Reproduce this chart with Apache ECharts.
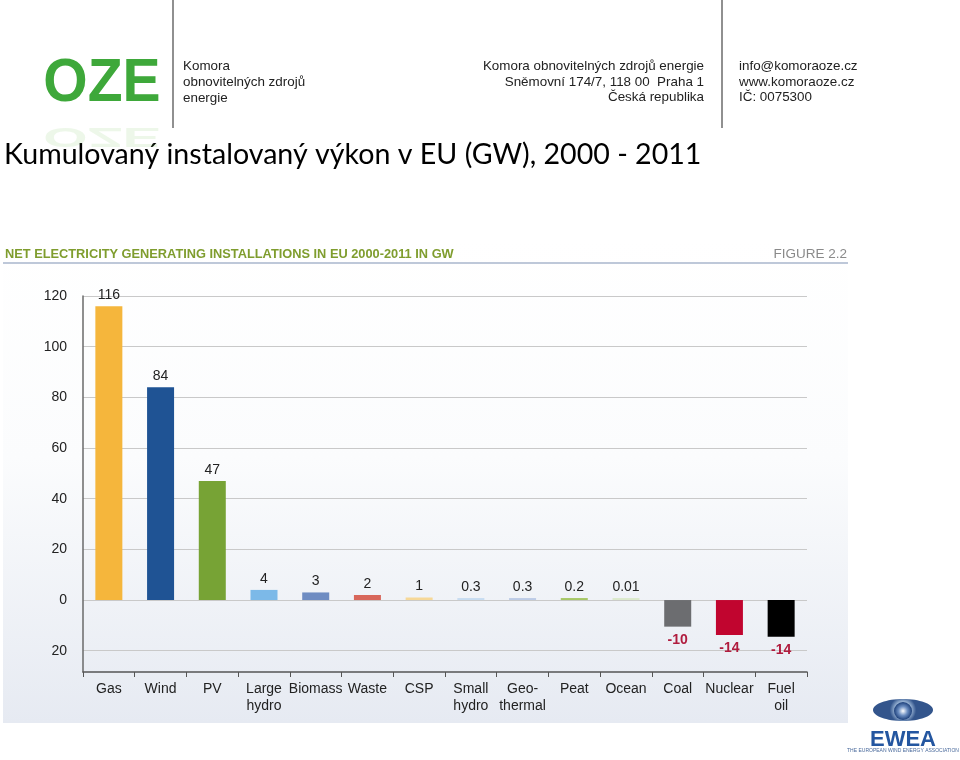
<!DOCTYPE html>
<html><head><meta charset="utf-8">
<script src="https://cdn.jsdelivr.net/npm/echarts@6/dist/echarts.min.js"></script>
<style>html,body{margin:0;padding:0;background:#fff}#c{width:960px;height:760px}</style>
</head><body><div id="c"></div>
<script>
const categories = ['Gas','Wind','PV','Large\nhydro','Biomass','Waste','CSP','Small\nhydro','Geo-\nthermal','Peat','Ocean','Coal','Nuclear','Fuel\noil'];
const values = [116, 84, 47, 4, 3, 2, 1, 0.3, 0.3, 0.2, 0.01, -10.5, -13.8, -14.5];
const valueLabels = ['116','84','47','4','3','2','1','0.3','0.3','0.2','0.01','-10','-14','-14'];
const barColors = ['#f5b63c','#1f5394','#77a335','#7cb9e8','#6e8cc2','#d8675b','#f6d898','#c7dcf1','#bccbe6','#a6c766','#dbe9cc','#6c6d70','#c1052f','#000000'];
const yTicks = [-20, 0, 20, 40, 60, 80, 100, 120];

const FONT = "'Liberation Sans',Arial,sans-serif";
const chart = echarts.init(document.getElementById('c'));

const data = values.map((v, i) => ({
  value: v,
  itemStyle: { color: barColors[i] },
  label: {
    show: true,
    position: v < 0 ? 'bottom' : 'top',
    distance: v < 0 ? 6 : 4,
    formatter: valueLabels[i],
    color: v < 0 ? '#b01c3e' : '#222',
    fontWeight: v < 0 ? 'bold' : 'normal',
    fontSize: 14,
    fontFamily: FONT
  }
}));

chart.setOption({
  backgroundColor: '#ffffff',
  animation: false,
  graphic: [
    // chart panel background
    { type: 'rect', z: -10, shape: { x: 3, y: 240, width: 845, height: 483 },
      style: { fill: new echarts.graphic.LinearGradient(0, 0, 0, 1, [
        { offset: 0, color: '#ffffff' }, { offset: 0.45, color: '#fbfcfd' }, { offset: 1, color: '#e6eaf2' }]) } },
    { type: 'line', shape: { x1: 3, y1: 263, x2: 848, y2: 263 }, style: { stroke: '#a9b6cc', lineWidth: 1.5 } },
    { type: 'text', x: 5, y: 254, style: { text: 'NET ELECTRICITY GENERATING INSTALLATIONS IN EU 2000-2011 IN GW',
      fill: '#7f9d2e', font: "bold 12.8px " + FONT, textVerticalAlign: 'middle' } },
    { type: 'text', x: 847, y: 254, style: { text: 'FIGURE 2.2', fill: '#8a8a8a', font: "13.5px " + FONT,
      textAlign: 'right', textVerticalAlign: 'middle' } },
    // slide title
    { type: 'text', x: 4, y: 155, style: { text: 'Kumulovaný instalovaný výkon v EU (GW), 2000 - 2011',
      fill: '#000', font: "28.6px Lato, 'Liberation Sans', sans-serif", textVerticalAlign: 'middle' } },
    // header separators
    { type: 'line', shape: { x1: 173, y1: 0, x2: 173, y2: 128 }, style: { stroke: '#6b6b6b', lineWidth: 1.5 } },
    { type: 'line', shape: { x1: 722, y1: 0, x2: 722, y2: 128 }, style: { stroke: '#6b6b6b', lineWidth: 1.5 } },
    // OZE logo
    { type: 'text', x: 102, y: 84, scaleX: 0.92, style: { text: 'OZE', font: "bold 62px 'Liberation Sans', Arial, sans-serif",
      textAlign: 'center', textVerticalAlign: 'middle', fill: '#3ea83a' } },
    { type: 'text', x: 102, y: 136, scaleX: 0.92, scaleY: -0.45, style: { text: 'OZE', font: "bold 62px 'Liberation Sans', Arial, sans-serif",
      textAlign: 'center', textVerticalAlign: 'middle', fill: '#6cbf4a', opacity: 0.12 } },
    { type: 'text', x: 183, y: 58, style: { text: 'Komora\nobnovitelných zdrojů\nenergie', fill: '#222',
      font: "13.4px 'Liberation Sans', Arial, sans-serif", lineHeight: 16 } },
    { type: 'text', x: 704, y: 59, style: { text: 'Komora obnovitelných zdrojů energie\nSněmovní 174/7, 118 00  Praha 1\nČeská republika',
      fill: '#222', font: "13.4px 'Liberation Sans', Arial, sans-serif", lineHeight: 15.5, textAlign: 'right' } },
    { type: 'text', x: 739, y: 59, style: { text: 'info@komoraoze.cz\nwww.komoraoze.cz\nIČ: 0075300',
      fill: '#222', font: "13.4px 'Liberation Sans', Arial, sans-serif", lineHeight: 15.5 } },
    // EWEA logo
    { type: 'ellipse', shape: { cx: 903, cy: 710, rx: 30, ry: 11 },
      style: { fill: new echarts.graphic.RadialGradient(0.5, 0.5, 0.6, [{ offset: 0, color: '#e9f0f8' }, { offset: 0.6, color: '#9fb9d8' }, { offset: 1, color: '#33558c' }]) } },
    { type: 'circle', shape: { cx: 903, cy: 711, r: 9 },
      style: { fill: new echarts.graphic.RadialGradient(0.5, 0.5, 0.5, [{ offset: 0, color: '#ffffff' }, { offset: 0.5, color: '#6d8fc2' }, { offset: 1, color: '#1c3f7a' }]) } },
    { type: 'text', x: 903, y: 740, style: { text: 'EWEA', fill: '#2456a0', font: "bold 22px 'Liberation Sans', Arial, sans-serif",
      textAlign: 'center', textVerticalAlign: 'middle' } },
    { type: 'text', x: 903, y: 751, style: { text: 'THE EUROPEAN WIND ENERGY ASSOCIATION', fill: '#4a6a9c', font: "5px 'Liberation Sans', Arial, sans-serif",
      textAlign: 'center', textVerticalAlign: 'middle' } }
  ],
  grid: { left: 83, right: 153, top: 296, bottom: 88, containLabel: false },
  xAxis: {
    type: 'category',
    data: categories,
    position: 'bottom',
    axisLine: { onZero: false, lineStyle: { color: '#555', width: 1.5 } },
    axisTick: { show: true, length: 5, lineStyle: { color: '#555' } },
    axisLabel: { color: '#222', fontSize: 14, fontFamily: FONT, margin: 9, lineHeight: 17, interval: 0 }
  },
  yAxis: {
    type: 'value',
    min: -28.4,
    max: 120,
    axisLine: { show: true, lineStyle: { color: '#6a6a6a', width: 1.5 } },
    axisTick: { show: false, customValues: yTicks },
    axisLabel: { customValues: yTicks, color: '#222', fontSize: 14, fontFamily: FONT, margin: 16,
      formatter: v => String(Math.abs(v)) },
    splitLine: { show: true, lineStyle: { color: '#c9c9c9', width: 1 } }
  },
  series: [{
    type: 'bar',
    data: data,
    barWidth: 27,
    barMinHeight: 2
  }]
});
</script>
</body></html>
